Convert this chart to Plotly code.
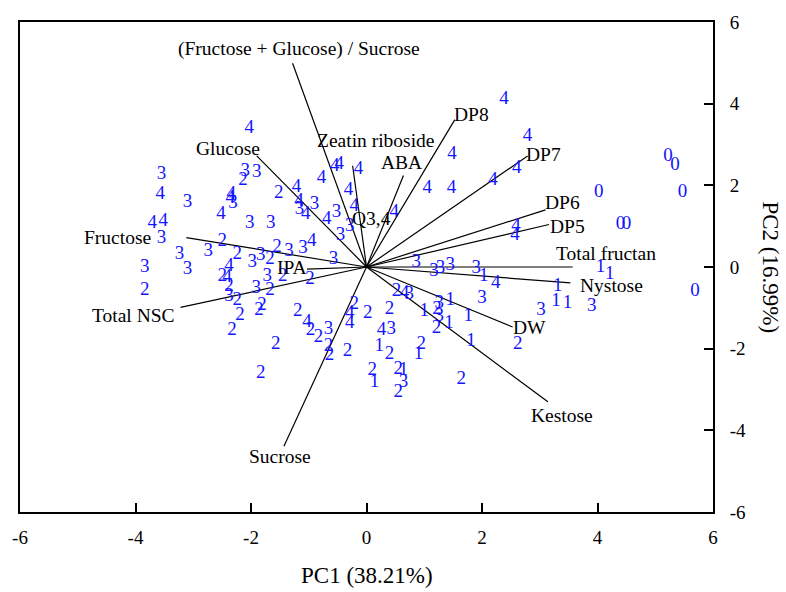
import plotly.graph_objects as go

# ---------------- data ----------------
# sample scores (PC1, PC2) grouped by stage label
g0_x = [5.22, 5.34, 4.02, 5.47, 4.40, 4.50, 5.69]
g0_y = [2.72, 2.48, 1.83, 1.83, 1.04, 1.04, -0.60]

g1_x = [4.05, 4.21, 3.31, 3.28, 3.48, 2.03, 1.45, 1.00, 1.43, 1.76, 1.81, 0.22, 0.90, 0.14, 0.64]
g1_y = [0.00, -0.17, -0.48, -0.84, -0.89, -0.22, -0.82, -1.08, -1.37, -1.20, -1.81, -1.93, -2.14, -2.82, -2.53]

g2_x = [2.62, 1.64, 1.22, 1.21, 0.52, 0.40, 0.02, -0.21, 0.95, 0.40, 0.10, 0.55, 0.55, -0.33,
        -0.66, -0.64, -0.97, -0.83, -1.19, -1.57, -1.83, -2.33, -2.19, -1.86, -1.81, -2.24,
        -2.38, -1.67, -2.50, -1.45, -0.98, -3.84, -2.50, -2.24, -1.55, -1.67, -1.52, -2.14]
g2_y = [-1.90, -2.75, -1.04, -1.49, -0.60, -1.04, -1.13, -0.92, -1.90, -2.14, -2.53, -2.51, -3.06, -2.07,
        -1.95, -2.17, -1.54, -1.71, -1.08, -1.88, -2.60, -1.54, -1.18, -1.06, -0.94, -0.82,
        -0.48, -0.58, -0.22, -0.22, -0.29, -0.58, 0.63, 0.31, 0.48, 0.19, 1.81, 2.12]

g3_x = [-3.55, -3.10, -3.55, -3.84, -3.10, -3.24, -2.74, -2.10, -1.90, -2.31, -2.02, -1.66, -1.16,
        -0.90, -0.52, -0.29, -0.45, -0.57, -1.98, -1.83, -1.34, -1.10, -1.72, -1.91, -2.38, -0.66,
        0.43, 0.86, 1.17, 1.28, 1.45, 1.90, 2.00, 3.02, 3.90, 0.74, 1.26, 1.26, 0.64]
g3_y = [2.27, 1.59, 0.70, 0.00, -0.05, 0.31, 0.39, 2.34, 2.31, 1.57, 1.08, 1.08, 1.42,
        1.54, 1.33, 0.99, 0.77, 0.19, 0.12, 0.29, 0.39, 0.46, -0.22, -0.51, -0.72, -1.52,
        -1.52, 0.12, -0.10, -0.02, 0.05, -0.02, -0.77, -1.06, -0.96, -0.67, -0.89, -1.20, -2.82]

g4_x = [2.38, 2.79, 1.48, 2.60, 2.19, 1.05, 1.47, 2.59, 2.57, 2.24, 0.48, -2.03, -3.57, -3.71,
        -3.52, -2.34, -2.36, -2.52, -1.21, -1.17, -1.05, -0.78, -0.55, -0.47, -0.14, -0.31,
        -0.21, -0.69, -0.95, -2.38, -2.41, -1.03, -0.29, -0.29, 0.26, 0.66]
g4_y = [4.10, 3.20, 2.77, 2.43, 2.12, 1.93, 1.93, 0.99, 0.77, -0.41, 1.35, 3.40, 1.78, 1.08,
        1.13, 1.78, 1.69, 1.30, 1.95, 1.61, 1.28, 2.17, 2.46, 2.51, 2.39, 1.88,
        1.49, 1.16, 0.63, 0.02, -0.24, -1.35, -1.13, -1.37, -1.54, -0.65]

# variable loadings
var_names = ["(Fructose + Glucose) / Sucrose", "Glucose", "Fructose", "Total NSC", "IPA", "Sucrose",
             "Zeatin riboside", "ABA", "DP8", "DP7", "DP6", "DP5", "Total fructan", "Nystose",
             "DW", "Kestose"]
load_x = [-1.28, -1.90, -3.12, -3.22, -1.03, -1.43, -0.24, 0.64, 1.53, 2.79, 3.10, 3.16, 3.57, 3.53, 2.53, 3.14]
load_y = [4.99, 2.72, 0.72, -0.99, -0.05, -4.39, 2.48, 2.24, 3.61, 2.72, 1.40, 1.04, 0.00, -0.39, -1.47, -3.30]

# label placement (layout, not data)
label_pos = [(-1.17, 5.33), (-2.40, 2.89), (-4.31, 0.72), (-4.03, -1.18), (-1.29, 0.0), (-1.50, -4.65),
             (0.17, 3.11), (0.60, 2.55), (1.81, 3.73), (3.07, 2.75), (3.40, 1.59), (3.48, 0.99),
             (4.14, 0.34), (4.24, -0.46), (2.83, -1.49), (3.38, -3.64)]
extra_label = ("Q3,4", 0.09, 1.20)

x_ticks = [-6, -4, -2, 0, 2, 4, 6]
y_ticks = [-6, -4, -2, 0, 2, 4, 6]

FONT = "Liberation Serif, Times New Roman, serif"
BLUE = "#1414ff"
LBL = 19.5

fig = go.Figure()

# loading lines
lx, ly = [], []
for x, y in zip(load_x, load_y):
    lx += [0, x, None]
    ly += [0, y, None]
fig.add_trace(go.Scatter(x=lx, y=ly, mode="lines", line=dict(color="black", width=1.2),
                         hoverinfo="skip", showlegend=False))

groups = [("0", g0_x, g0_y), ("1", g1_x, g1_y), ("2", g2_x, g2_y), ("3", g3_x, g3_y), ("4", g4_x, g4_y)]
for lab, xs, ys in groups:
    fig.add_trace(go.Scatter(x=xs, y=ys, mode="text", text=[lab] * len(xs),
                             textfont=dict(family=FONT, size=19, color=BLUE),
                             textposition="middle center", showlegend=False, name=lab))

annotations = []
for name, (tx, ty) in zip(var_names, label_pos):
    annotations.append(dict(x=tx, y=ty, xref="x", yref="y", text=name, showarrow=False,
                            font=dict(family=FONT, size=LBL, color="black"),
                            xanchor="center", yanchor="middle"))
annotations.append(dict(x=extra_label[1], y=extra_label[2], xref="x", yref="y", text=extra_label[0],
                        showarrow=False, font=dict(family=FONT, size=LBL, color="black"),
                        xanchor="center", yanchor="middle"))
annotations.append(dict(x=0.5, y=-0.13, xref="paper", yref="paper", text="PC1 (38.21%)",
                        showarrow=False, font=dict(family=FONT, size=23, color="black"),
                        xanchor="center", yanchor="middle"))
annotations.append(dict(x=1.083, y=0.5, xref="paper", yref="paper", text="PC2 (16.99%)",
                        showarrow=False, textangle=90, font=dict(family=FONT, size=23, color="black"),
                        xanchor="center", yanchor="middle"))

fig.update_layout(
    width=786, height=592,
    margin=dict(l=17, r=73, t=14, b=80),
    paper_bgcolor="white", plot_bgcolor="white",
    annotations=annotations,
    xaxis=dict(range=[-6, 6], tickvals=x_ticks, ticktext=[str(v) for v in x_ticks],
               ticks="inside", ticklen=9, tickwidth=1.5, tickcolor="black",
               showline=True, linewidth=2, linecolor="black", mirror=True,
               showgrid=False, zeroline=False, ticklabelstandoff=7,
               tickfont=dict(family=FONT, size=19, color="black")),
    yaxis=dict(range=[-6, 6], tickvals=y_ticks, ticktext=[str(v) for v in y_ticks], side="right",
               ticks="inside", ticklen=9, tickwidth=1.5, tickcolor="black",
               showline=True, linewidth=2, linecolor="black", mirror=True,
               showgrid=False, zeroline=False, ticklabelstandoff=11,
               tickfont=dict(family=FONT, size=19, color="black")),
)

fig.write_html("out.html")
